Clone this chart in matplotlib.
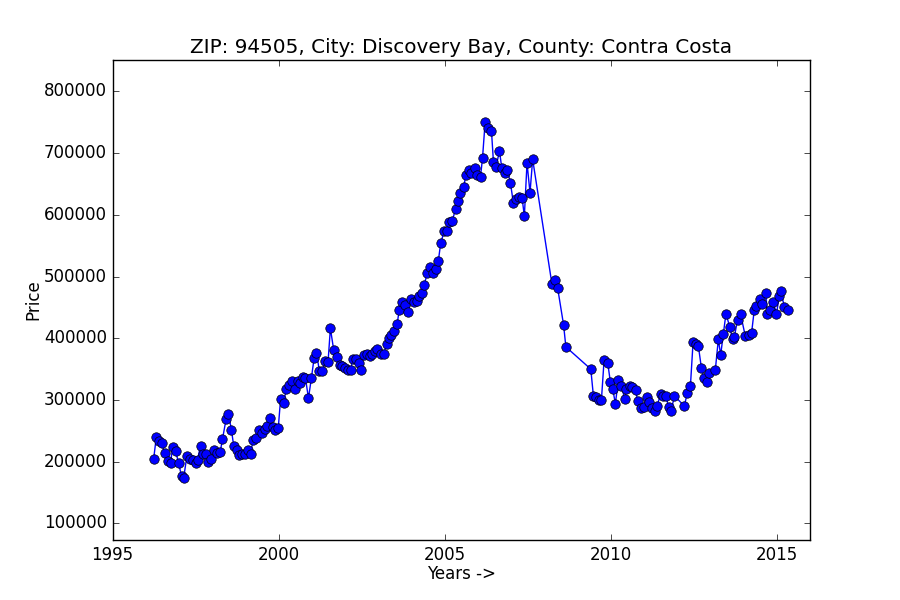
import matplotlib
matplotlib.use("Agg")
import matplotlib.pyplot as plt

plt.style.use("classic")

title = "ZIP: 94505, City: Discovery Bay, County: Contra Costa"
x_label = "Years ->"
y_label = "Price"

years = [
    1996.24, 1996.32, 1996.41, 1996.48, 1996.57, 1996.66, 1996.75, 1996.81, 1996.90, 1996.99,
    1997.08, 1997.14, 1997.24, 1997.32, 1997.41, 1997.50, 1997.56, 1997.65, 1997.72, 1997.81,
    1997.89, 1997.97, 1998.06, 1998.15, 1998.24, 1998.31, 1998.42, 1998.49, 1998.58, 1998.65,
    1998.74, 1998.82, 1998.91, 1998.98, 1999.07, 1999.16, 1999.23, 1999.32, 1999.41, 1999.50,
    1999.58, 1999.65, 1999.74, 1999.82, 1999.90, 1999.99, 2000.06, 2000.15, 2000.23, 2000.30,
    2000.40, 2000.48, 2000.57, 2000.65, 2000.73, 2000.81, 2000.90, 2000.99, 2001.07, 2001.14,
    2001.23, 2001.32, 2001.41, 2001.49, 2001.56, 2001.66, 2001.76, 2001.84, 2001.92, 2002.01,
    2002.09, 2002.17, 2002.23, 2002.33, 2002.41, 2002.49, 2002.56, 2002.66, 2002.74, 2002.82,
    2002.89, 2002.97, 2003.07, 2003.17, 2003.25, 2003.32, 2003.39, 2003.48, 2003.57, 2003.63,
    2003.72, 2003.81, 2003.91, 2003.98, 2004.07, 2004.16, 2004.24, 2004.33, 2004.39, 2004.47,
    2004.57, 2004.66, 2004.73, 2004.81, 2004.88, 2004.99, 2005.06, 2005.14, 2005.23, 2005.33,
    2005.39, 2005.47, 2005.57, 2005.64, 2005.73, 2005.80, 2005.90, 2005.97, 2006.08, 2006.14,
    2006.22, 2006.30, 2006.41, 2006.47, 2006.55, 2006.65, 2006.72, 2006.82, 2006.89, 2006.98,
    2007.07, 2007.16, 2007.24, 2007.33, 2007.40, 2007.48, 2007.57, 2007.65,
    2008.23, 2008.31, 2008.40, 2008.58, 2008.65,
    2009.40, 2009.48, 2009.56, 2009.65, 2009.72, 2009.80, 2009.91, 2009.99, 2010.06, 2010.14,
    2010.23, 2010.32, 2010.42, 2010.47, 2010.57, 2010.65, 2010.75, 2010.81, 2010.90, 2010.99,
    2011.08, 2011.14, 2011.23, 2011.32, 2011.40, 2011.50, 2011.57, 2011.66, 2011.74, 2011.83,
    2011.91,
    2012.22, 2012.30, 2012.40, 2012.48, 2012.56, 2012.64, 2012.73, 2012.81, 2012.90, 2012.97,
    2013.15, 2013.24, 2013.31, 2013.39, 2013.47, 2013.58, 2013.67, 2013.72, 2013.82, 2013.91,
    2014.05, 2014.15, 2014.24, 2014.32, 2014.38, 2014.48, 2014.56, 2014.67, 2014.71, 2014.80,
    2014.89, 2014.99, 2015.08, 2015.12, 2015.23, 2015.33,
]

prices = [
    205000, 240000, 233000, 230000, 214000, 201000, 198000, 224000, 217000, 198000,
    176000, 173000, 209000, 204000, 202000, 197000, 203000, 226000, 213000, 213000,
    200000, 205000, 219000, 214000, 215000, 236000, 269000, 277000, 252000, 225000,
    219000, 211000, 212000, 212000, 219000, 213000, 235000, 239000, 251000, 247000,
    253000, 258000, 271000, 256000, 252000, 254000, 301000, 295000, 317000, 324000,
    331000, 318000, 330000, 328000, 338000, 335000, 303000, 336000, 368000, 376000,
    347000, 347000, 363000, 362000, 416000, 381000, 370000, 357000, 355000, 352000,
    349000, 349000, 366000, 366000, 360000, 349000, 373000, 374000, 372000, 374000,
    379000, 383000, 374000, 374000, 391000, 401000, 406000, 412000, 423000, 445000,
    458000, 454000, 443000, 463000, 458000, 461000, 468000, 473000, 487000, 505000,
    515000, 505000, 512000, 525000, 554000, 574000, 574000, 588000, 590000, 610000,
    623000, 636000, 645000, 664000, 673000, 668000, 676000, 665000, 662000, 692000,
    751000, 741000, 736000, 685000, 678000, 704000, 676000, 668000, 672000, 652000,
    619000, 625000, 629000, 628000, 598000, 684000, 636000, 690000,
    488000, 495000, 482000, 422000, 386000,
    350000, 306000, 304000, 300000, 300000, 364000, 360000, 329000, 318000, 294000,
    332000, 323000, 302000, 317000, 323000, 321000, 316000, 298000, 287000, 288000,
    305000, 296000, 287000, 282000, 290000, 310000, 307000, 307000, 289000, 282000,
    307000,
    290000, 311000, 323000, 394000, 391000, 387000, 352000, 335000, 329000, 344000,
    349000, 398000, 373000, 407000, 440000, 419000, 398000, 402000, 430000, 439000,
    404000, 406000, 408000, 445000, 452000, 464000, 455000, 474000, 440000, 445000,
    459000, 440000, 469000, 477000, 450000, 446000,
]

fig = plt.figure(figsize=(9, 6), dpi=100, facecolor="white")
ax = fig.add_subplot(111)
fig.subplots_adjust(left=0.125, right=0.9, bottom=0.1, top=0.9)

ax.plot(years, prices, "o-", color="#0000ff", markeredgecolor="black",
        markeredgewidth=0.5, markersize=6.8, linewidth=1.0)

ax.set_xlim(1995, 2016)
ax.set_ylim(min(prices) - 100000, max(prices) + 100000)
ax.set_xticks([1995, 2000, 2005, 2010, 2015])
ax.set_yticks([100000, 200000, 300000, 400000, 500000, 600000, 700000, 800000])
ax.ticklabel_format(useOffset=False, style="plain", axis="both")

ax.set_title(title)
ax.set_xlabel(x_label, labelpad=1)
ax.set_ylabel(y_label, labelpad=1)

fig.savefig("out.png", dpi=100, facecolor="white")
